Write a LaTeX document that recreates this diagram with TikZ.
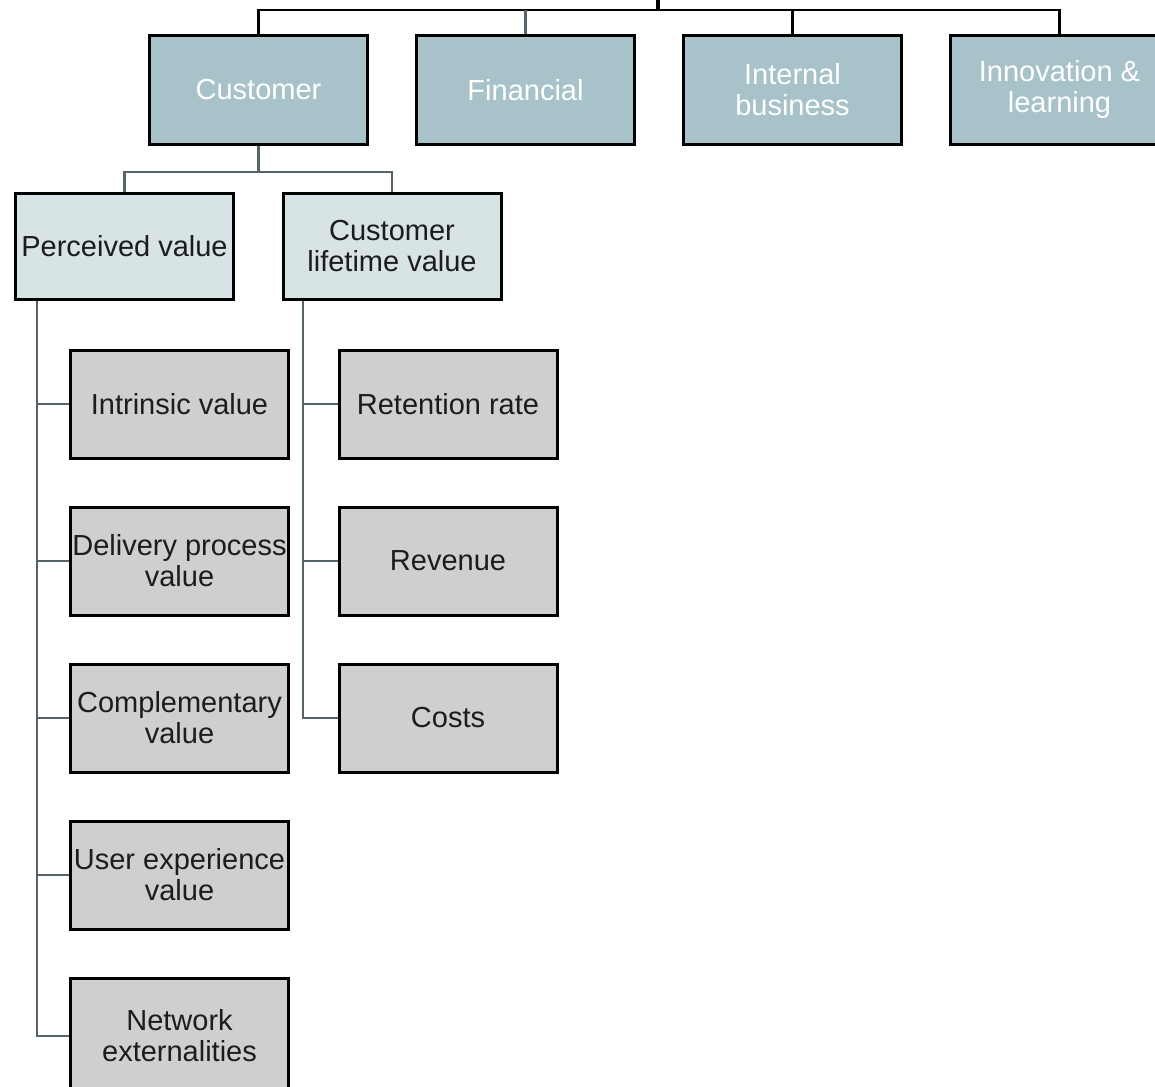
\documentclass[tikz,border=0pt]{standalone}
\usepackage{fontspec}
\setmainfont{Liberation Sans}
\usetikzlibrary{positioning}
\definecolor{mainblue}{HTML}{A7C3C9}
\definecolor{lightblue}{HTML}{D7E3E4}
\definecolor{leafgray}{HTML}{D0CECF}
\definecolor{linkslate}{HTML}{56646A}
\definecolor{textdark}{HTML}{1C1C1C}

\begin{document}
\begin{tikzpicture}[x=0.5pt, y=-0.5pt,
    basebox/.style={rectangle, draw=black, line width=1.5pt, minimum width=109pt, minimum height=54pt,
        inner xsep=0pt, align=center, font=\fontsize{14.5}{15.5}\selectfont},
    mainbox/.style={basebox, fill=mainblue, text=white},
    subbox/.style={basebox, fill=lightblue, text=textdark, minimum height=53pt},
    leafbox/.style={basebox, fill=leafgray, text=textdark},
    toplink/.style={draw=black, line width=1.2pt},
    link/.style={draw=linkslate, line width=1.3pt}]
    \useasboundingbox (0,0) rectangle (1155,1086);

    % Perspectives
    \node[mainbox] (cust) at (258.5,90) {Customer};
    \node[mainbox, right=23pt of cust] (fin) {Financial};
    \node[mainbox, right=23pt of fin] (intbus) {Internal\\business};
    \node[mainbox, right=23pt of intbus] (innov) {Innovation \&\\learning};

    % root line and bar
    \coordinate (root) at (658,-5);
    \coordinate (hub) at (658,10);
    \draw[toplink, line width=1.6pt] (root) -- (hub);
    \draw[toplink] (cust.north) |- (hub) -| (innov.north);
    \draw[link] (fin.north) -- (fin.north |- hub);
    \draw[toplink] (intbus.north) -- (intbus.north |- hub);

    % Customer split
    \node[subbox] (perc) at (124.5,246.5) {Perceived value};
    \node[subbox] (clv) at (392,246.5) {Customer\\lifetime value};
    \coordinate (cfork) at (258.5,172);
    \draw[link] (cust.south) -- (cfork);
    \draw[link] (perc.north) |- (cfork) -| (clv.north);

    % Perceived value drivers
    \node[leafbox] (intr) at (179.5,404) {Intrinsic value};
    \node[leafbox, below=23pt of intr] (deliv) {Delivery process\\value};
    \node[leafbox, below=23pt of deliv] (compl) {Complementary\\value};
    \node[leafbox, below=23pt of compl] (userx) {User experience\\value};
    \node[leafbox, below=23pt of userx, minimum height=58pt] (netw) {Network\\externalities};

    \coordinate (lspine) at (37,0);
    \draw[link] (perc.south -| lspine) |- (netw.west);
    \foreach \leaf in {intr,deliv,compl,userx}
        \draw[link] (\leaf.west) -- (\leaf.west -| lspine);

    % Customer lifetime value drivers
    \node[leafbox] (ret) at (448,404) {Retention rate};
    \node[leafbox, below=23pt of ret] (rev) {Revenue};
    \node[leafbox, below=23pt of rev] (costs) {Costs};

    \coordinate (rspine) at (303,0);
    \draw[link] (clv.south -| rspine) |- (costs.west);
    \foreach \leaf in {ret,rev}
        \draw[link] (\leaf.west) -- (\leaf.west -| rspine);
\end{tikzpicture}
\end{document}
